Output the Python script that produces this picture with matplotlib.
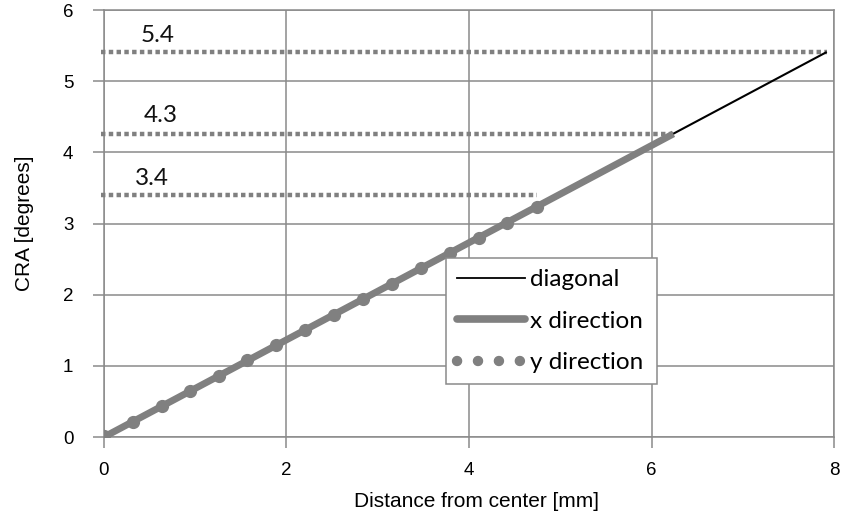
import numpy as np
import matplotlib.pyplot as plt
from matplotlib.lines import Line2D

plt.rcParams['font.family'] = ['Liberation Sans', 'DejaVu Sans']

# diagonal / x direction end points
diag_x = [0, 7.92]
diag_y = [0, 5.41]
xdir_x = [0, 6.24]
xdir_y = [0, 4.26]

# y direction points
ydir_x = [0, 0.315, 0.635, 0.946, 1.26, 1.567, 1.888, 2.206, 2.524, 2.84,
          3.16, 3.47, 3.79, 4.11, 4.42, 4.74]
ydir_y = [0.02, 0.21, 0.43, 0.65, 0.86, 1.08, 1.29, 1.51, 1.72, 1.94,
          2.15, 2.37, 2.58, 2.80, 3.01, 3.23]

# max CRA reference levels
level_vals = [5.41, 4.26, 3.40]
level_ends = [7.92, 6.24, 4.74]
level_labels = ['5.4', '4.3', '3.4']
label_pos = [(0.59, 5.64), (0.62, 4.52), (0.53, 3.63)]

gray = '#808080'

fig = plt.figure(figsize=(8.44, 5.14), dpi=100)
ax = fig.add_axes([0.1232, 0.1498, 0.865, 0.8307])

for lv, le, lab, pos in zip(level_vals, level_ends, level_labels, label_pos):
    ax.plot([-0.03, le], [lv, lv], color=gray, lw=3.2, dashes=(1, 0.75),
            clip_on=False, zorder=3)
    ax.text(pos[0], pos[1], lab, fontsize=17.5, family='Lato',
            ha='center', va='center', color='#111111')

ax.plot(diag_x, diag_y, color='black', lw=1.5, zorder=4, solid_capstyle='butt')
ax.plot(xdir_x, xdir_y, color=gray, lw=5, zorder=5, solid_capstyle='butt')
ax.plot(ydir_x, ydir_y, ls='none', marker='o', ms=8.5, color=gray,
        mec=gray, zorder=6)

ax.set_xlim(0, 8)
ax.set_ylim(0, 6)
ax.set_xticks([0, 2, 4, 6, 8])
ax.set_yticks([0, 1, 2, 3, 4, 5, 6])
ax.grid(True, color='#8a8a8a', lw=1.1)
ax.set_axisbelow(True)
for s in ax.spines.values():
    s.set_color('#8a8a8a')
    s.set_linewidth(1.1)
ax.tick_params(direction='out', length=8, width=1.1, color='#8a8a8a',
               labelsize=13.5)
ax.tick_params(axis='x', pad=10)
ax.tick_params(axis='y', pad=14)
ax.set_xlabel('Distance from center [mm]', fontsize=15, labelpad=9)
ax.xaxis.label.set_x(0.51)
ax.set_ylabel('CRA [degrees]', fontsize=15, labelpad=21)

handles = [
    Line2D([], [], color='black', lw=1.3),
    Line2D([], [], color=gray, lw=5.5, solid_capstyle='round'),
    Line2D([], [], color=gray, lw=7.5, dashes=(0.01, 2.0), dash_capstyle='round'),
]
leg = ax.legend(handles, ['diagonal', 'x direction', 'y direction'],
                loc='upper left', bbox_to_anchor=(0.468, 0.087, 0.289, 0.332),
                mode='expand', fancybox=False, framealpha=1, edgecolor='#8a8a8a',
                prop={'family': 'Lato', 'size': 17.5}, handlelength=2.8,
                handletextpad=0.2, labelspacing=0.85, borderpad=0.45,
                borderaxespad=0)
leg.get_frame().set_linewidth(1.1)
leg.set_zorder(10)

fig.savefig('out.png', dpi=100)
